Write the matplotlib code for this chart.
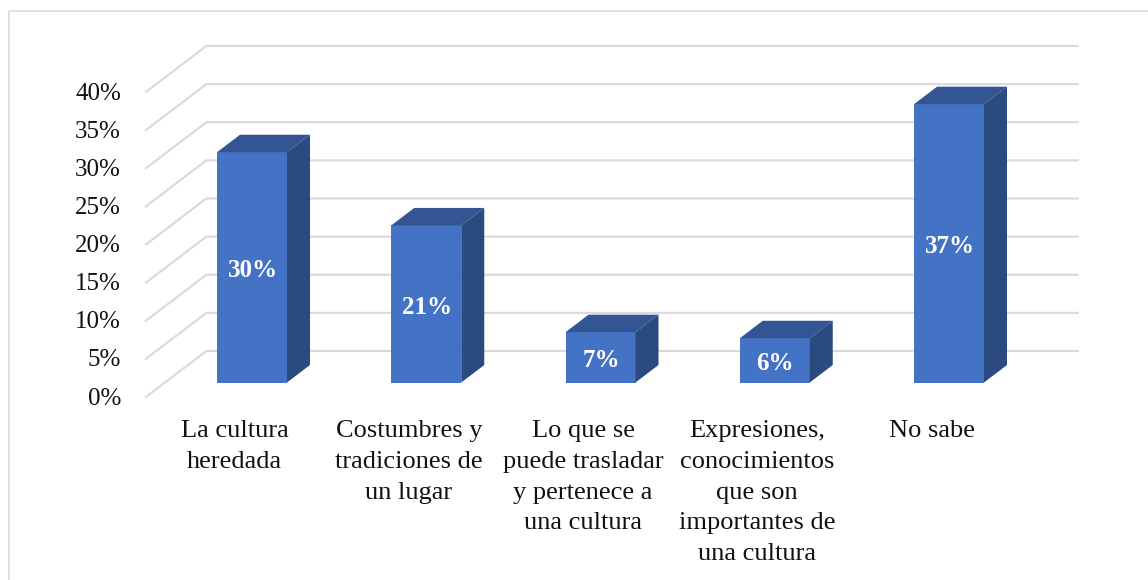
import matplotlib
matplotlib.use("Agg")
import matplotlib.pyplot as plt
from matplotlib.patches import Polygon

categories = ["La cultura\nheredada", "Costumbres y\ntradiciones de\nun lugar",
              "Lo que se\npuede trasladar\ny pertenece a\nuna cultura",
              "Expresiones,\nconocimientos\nque son\nimportantes de\nuna cultura", "No sabe"]
values = [30.2, 20.6, 6.6, 5.8, 36.5]
value_labels = ["30%", "21%", "7%", "6%", "37%"]
ticks = [0, 5, 10, 15, 20, 25, 30, 35, 40]

PX_CAT = 174.25   # pixels per category
PX_PCT = 7.625    # pixels per percent
X0, Y0 = 252.0, 382.5  # pixel of category 0 / 0% on the bars' front plane
W, H = 1148, 580
BAR = 70 / PX_CAT
DX, DY = 23 / PX_CAT, 17.5 / PX_PCT          # bar depth
WX0, WY0 = -19 / PX_CAT, -14.5 / PX_PCT      # front of the floor, relative to bar plane
WX1, WY1 = 41.5 / PX_CAT, 31.5 / PX_PCT      # back wall, relative to bar plane
XL, XR = -0.5, 4.5

plt.rcParams["font.family"] = ["Liberation Serif", "DejaVu Serif"]
fig = plt.figure(figsize=(W / 100, H / 100), dpi=100, facecolor="white")
ax = fig.add_axes([0, 0, 1, 1])
ax.set_xlim(-X0 / PX_CAT, (W - X0) / PX_CAT)
ax.set_ylim((Y0 - H) / PX_PCT, Y0 / PX_PCT)
ax.axis("off")

# outer frame (top and left only, as cropped in the source)
frame = "#d9d9d9"
tf = ax.transAxes
ax.plot([8.5 / W, 8.5 / W, 1], [0, 1 - 10.5 / H, 1 - 10.5 / H], color=frame, lw=1.2,
        transform=tf, clip_on=False)

# gridlines
grid = "#d9d9d9"
for t in ticks:
    ax.plot([XL + WX0, XL + WX1, XR + WX1], [t + WY0, t + WY1, t + WY1],
            color=grid, lw=1.5, solid_joinstyle="miter", zorder=1)
    ax.text(XL + WX0 - 25 / PX_CAT, t + WY0 - 0.2, f"{t}%", ha="right", va="center",
            fontsize=18, color="#111111", zorder=5)

# bars
front, top, side = "#4472c4", "#335593", "#2a4a80"
for i, (v, lab, cat) in enumerate(zip(values, value_labels, categories)):
    l, r = i - BAR / 2, i + BAR / 2
    ax.add_patch(Polygon([(l, 0), (r, 0), (r, v), (l, v)], fc=front, ec="none", zorder=3))
    ax.add_patch(Polygon([(l, v), (r, v), (r + DX, v + DY), (l + DX, v + DY)],
                         fc=top, ec="none", zorder=3))
    ax.add_patch(Polygon([(r, 0), (r + DX, DY), (r + DX, v + DY), (r, v)],
                         fc=side, ec="none", zorder=3))
    ax.text(i + 0.5 / PX_CAT, v / 2 - 0.45, lab, ha="center", va="center", color="white",
            fontsize=18, fontweight="bold", zorder=6)
    ax.text(i - 17.5 / PX_CAT, -4.9, cat, ha="center", va="top", fontsize=19,
            color="#111111", linespacing=1.52, zorder=5)

fig.savefig("out.png", dpi=100, facecolor="white")
